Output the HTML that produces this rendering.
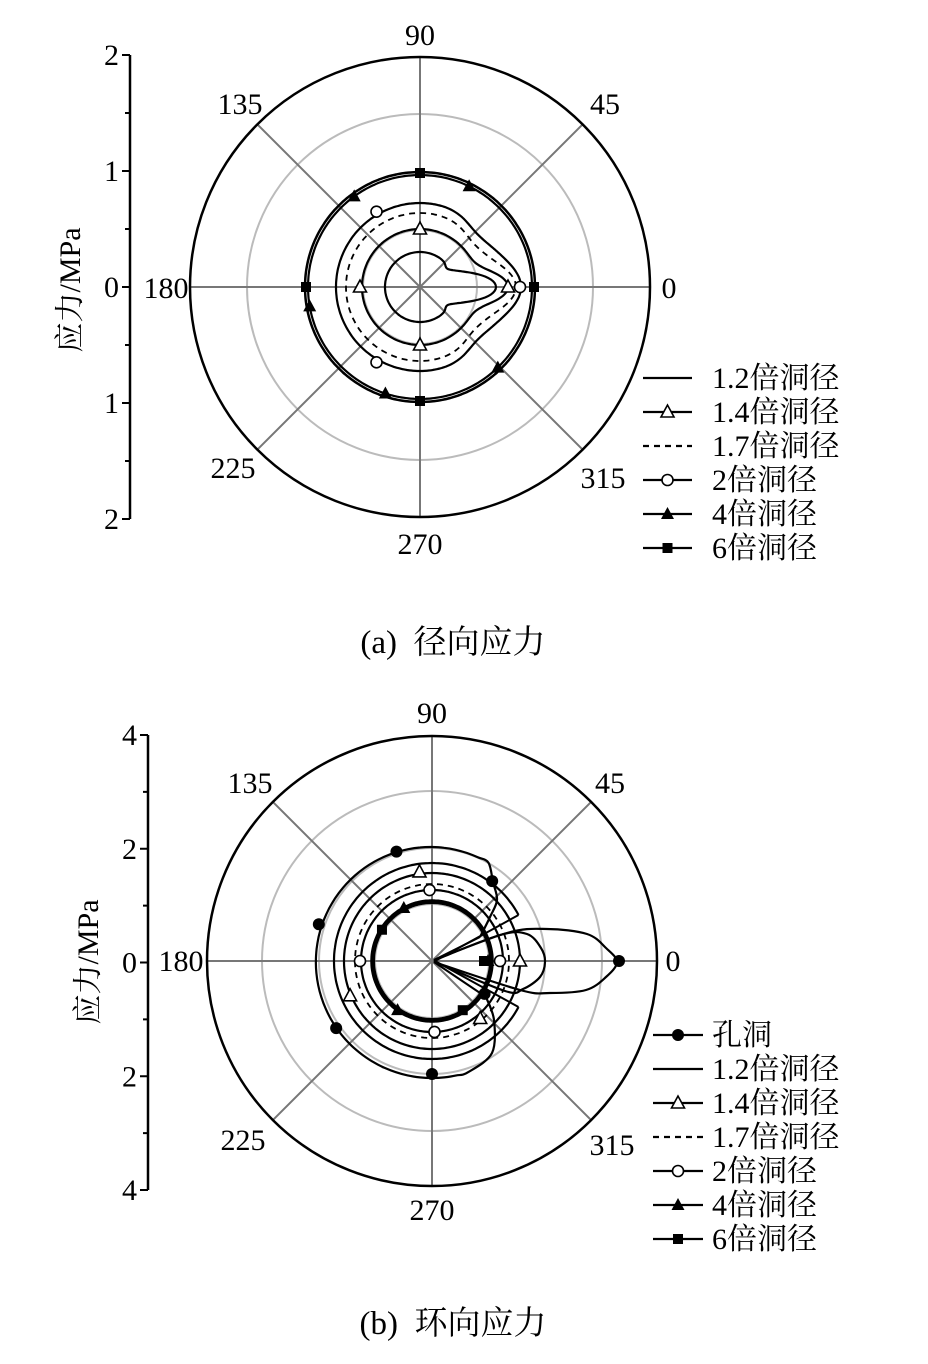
<!DOCTYPE html>
<html><head><meta charset="utf-8"><style>
html,body{margin:0;padding:0;background:#fff;}
svg{display:block;}
text{font-family:"Liberation Serif","Noto Serif CJK SC",serif;fill:#000;}
</style></head><body>
<svg id="s" width="928" height="1364" viewBox="0 0 928 1364" xmlns="http://www.w3.org/2000/svg"></svg>
<script>
var S=document.getElementById('s');var out='';
function P(x,y){return x.toFixed(1)+','+y.toFixed(1);}
function cr(pts,closed){
 var n=pts.length,d='M'+P(pts[0][0],pts[0][1]);
 var m=closed?n:n-1;
 for(var i=0;i<m;i++){
  var p0=pts[(i-1+n)%n],p1=pts[i],p2=pts[(i+1)%n],p3=pts[(i+2)%n];
  if(!closed){if(i==0)p0=p1;if(i+2>=n)p3=p2;}
  var c1=[p1[0]+(p2[0]-p0[0])/6,p1[1]+(p2[1]-p0[1])/6],c2=[p2[0]-(p3[0]-p1[0])/6,p2[1]-(p3[1]-p1[1])/6];
  d+='C'+P(c1[0],c1[1])+' '+P(c2[0],c2[1])+' '+P(p2[0],p2[1]);
 }
 return d+(closed?'Z':'');
}
function polar(cx,cy,f){var pts=[];for(var a=0;a<360;a+=3){var t=a*Math.PI/180;var r=f(t,a);pts.push([cx+r*Math.cos(t),cy-r*Math.sin(t)]);}return pts;}
function ang(a){return Math.min(Math.abs(a),360-Math.abs(a))*Math.PI/180;}
function pt(cx,cy,r,a){var t=a*Math.PI/180;return [cx+r*Math.cos(t),cy-r*Math.sin(t)];}
function path(d,w,dash){out+='<path d="'+d+'" fill="none" stroke="#000" stroke-width="'+w+'"'+(dash?' stroke-dasharray="6,5"':'')+'/>';}
function mk(type,x,y){
 if(type=='sq')out+='<rect x="'+(x-5)+'" y="'+(y-5)+'" width="10" height="10" fill="#000"/>';
 else if(type=='tf')out+='<polygon points="'+P(x,y-7)+' '+P(x-6.5,y+5)+' '+P(x+6.5,y+5)+'" fill="#000"/>';
 else if(type=='to')out+='<polygon points="'+P(x,y-7)+' '+P(x-6.5,y+5)+' '+P(x+6.5,y+5)+'" fill="#fff" stroke="#000" stroke-width="1.6"/>';
 else if(type=='co')out+='<circle cx="'+x+'" cy="'+y+'" r="5.5" fill="#fff" stroke="#000" stroke-width="1.6"/>';
 else if(type=='cf')out+='<circle cx="'+x+'" cy="'+y+'" r="6" fill="#000"/>';
}
function txt(x,y,s,sz,anc){out+='<text x="'+x+'" y="'+y+'" font-size="'+sz+'" text-anchor="'+(anc||'middle')+'">'+s+'</text>';}
function frame(cx,cy,R,grays){
 grays.forEach(function(r){out+='<circle cx="'+cx+'" cy="'+cy+'" r="'+r+'" fill="none" stroke="#bbb" stroke-width="2"/>';});
 for(var a=0;a<360;a+=45){var p=pt(cx,cy,R,a);out+='<line x1="'+cx+'" y1="'+cy+'" x2="'+p[0].toFixed(1)+'" y2="'+p[1].toFixed(1)+'" stroke="#777" stroke-width="2"/>';}
 out+='<circle cx="'+cx+'" cy="'+cy+'" r="'+R+'" fill="none" stroke="#000" stroke-width="2.5"/>';
}
function axis(x,y0,y1,labs,ylabx,ylaby){
 out+='<line x1="'+x+'" y1="'+y0+'" x2="'+x+'" y2="'+y1+'" stroke="#000" stroke-width="2.5"/>';
 var n=labs.length;
 for(var i=0;i<n;i++){var y=y0+(y1-y0)*i/(n-1);out+='<line x1="'+(x-8)+'" y1="'+y+'" x2="'+x+'" y2="'+y+'" stroke="#000" stroke-width="2"/>';txt(x-11,y+10,labs[i],30,'end');
  if(i<n-1){var ym=y+(y1-y0)/(n-1)/2;out+='<line x1="'+(x-5)+'" y1="'+ym+'" x2="'+x+'" y2="'+ym+'" stroke="#000" stroke-width="2"/>';}}
 out+='<text x="0" y="0" font-size="30" text-anchor="middle" transform="translate('+ylabx+','+ylaby+') rotate(-90)">应力/MPa</text>';
}
function legend(x0,x1,tx,y0,items){
 items.forEach(function(it,i){var y=y0+i*34;
  out+='<line x1="'+x0+'" y1="'+y+'" x2="'+x1+'" y2="'+y+'" stroke="#000" stroke-width="2.2"'+(it[0]=='dash'?' stroke-dasharray="6,5"':'')+'/>';
  if(it[0]!='line'&&it[0]!='dash')mk(it[0],(x0+x1)/2,y);
  txt(tx,y+10,it[1],30,'start');});
}
/* ---------- TOP ---------- */
var cx=420,cy=287;
frame(cx,cy,230,[57,115,173]);
axis(130,55,519,['2','1','0','1','2'],80,290);
txt(420,45,'90',30);txt(605,114,'45',30);txt(240,114,'135',30);txt(166,298,'180',30);txt(669,298,'0',30);
txt(233,478,'225',30);txt(603,488,'315',30);txt(420,554,'270',30);
path(cr(polar(cx,cy,function(t,a){return 115;}),true),2.5);
path(cr(polar(cx,cy,function(t,a){return 112;}),true),2.2);
path(cr(polar(cx,cy,function(t,a){var u=ang(a);return 84+17*Math.exp(-Math.pow(u/0.32,2))-6*Math.exp(-Math.pow((u-0.75)/0.3,2));}),true),2.2);
path(cr(polar(cx,cy,function(t,a){var u=ang(a);return 74+22*Math.exp(-Math.pow(u/0.3,2))-5*Math.exp(-Math.pow((u-0.7)/0.3,2));}),true),1.8,true);
path(cr(polar(cx,cy,function(t,a){var u=ang(a);return 58+30*Math.exp(-Math.pow(u/0.26,2));}),true),2.2);
path(cr(polar(cx,cy,function(t,a){var u=ang(a);return 35+41*Math.exp(-Math.pow(u/0.3,2))-3*Math.exp(-Math.pow((u-0.6)/0.15,2));}),true),2.2);
[0,90,180,270].forEach(function(a){var p=pt(cx,cy,114,a);mk('sq',p[0],p[1]);});
[64,126,190,252,314].forEach(function(a){var p=pt(cx,cy,112,a);mk('tf',p[0],p[1]);});
mk('co',420+100,287);var p=pt(cx,cy,87,120);mk('co',p[0],p[1]);p=pt(cx,cy,87,240);mk('co',p[0],p[1]);
[[88,0],[58,90],[60,180],[58,270]].forEach(function(q){var p=pt(cx,cy,q[0],q[1]);mk('to',p[0],p[1]);});
legend(643,692,712,378,[['line','1.2倍洞径'],['to','1.4倍洞径'],['dash','1.7倍洞径'],['co','2倍洞径'],['tf','4倍洞径'],['sq','6倍洞径']]);
txt(453,653,'(a)&#160; 径向应力',33);
/* ---------- BOTTOM ---------- */
cx=432;cy=961;
frame(cx,cy,225,[57,113,170]);
axis(148,735,1190,['4','2','0','2','4'],98,962);
txt(432,723,'90',30);txt(610,793,'45',30);txt(250,793,'135',30);txt(181,971,'180',30);txt(673,971,'0',30);
txt(243,1150,'225',30);txt(612,1155,'315',30);txt(432,1220,'270',30);
path(cr(polar(cx,cy,function(){return 60;}),true),3.5);
path(cr(polar(cx,cy,function(){return 58;}),true),2);
path(cr(polar(cx,cy,function(t,a){return 71;}),true),2.2);
path(cr(polar(cx,cy,function(t,a){return 77;}),true),1.8,true);
path(cr(polar(cx,cy,function(t,a){return 88;}),true),2.2);
(function(){var pts=[];for(var a=28;a<=332;a+=4){pts.push(pt(cx,cy,98,a));}
 path(cr(pts,false),2.2);
 var a1=pt(cx,cy,98,28),a2=pt(cx,cy,98,332);
 path('M'+P(a1[0],a1[1])+'L'+P(cx+3,cy)+'L'+P(a2[0],a2[1]),2);
 path(cr([[cx+3,cy-1],[500,935],[527,934],[541,948],[545,962],[540,977],[523,989],[505,991],[cx+3,cy+1]],false),2.2);
})();
(function(){var pts=[[480,937],[490,917],[497,900],[493,882]];
 for(var a=60;a<=290;a+=6){var r=114+3*Math.sin((a-90)*Math.PI/180*0.5);pts.push(pt(cx,cy,r,a));}
 pts.push([492,1053],[494,1020],[486,997]);
 path(cr(pts,false),2.2);
 path('M480,937L'+P(cx+2,cy-1)+'M486,997L'+P(cx+2,cy+1),2);
 path(cr([[cx+2,cy-1],[507,933],[547,929],[587,934],[606,948],[617,962],[606,977],[586,990],[550,993],[520,990],[cx+2,cy+1]],false),2.2);
})();
[[187,0],[100,53],[115,108],[119,162],[117,215],[113,270],[62,-32]].forEach(function(q){var p=pt(cx,cy,q[0],q[1]);mk('cf',p[0],p[1]);});
[[88,0],[90,98],[89,203],[75,-50]].forEach(function(q){var p=pt(cx,cy,q[0],q[1]);mk('to',p[0],p[1]);});
[[68,0],[71,92],[72,180],[71,272]].forEach(function(q){var p=pt(cx,cy,q[0],q[1]);mk('co',p[0],p[1]);});
[[56,0],[60,118],[60,235]].forEach(function(q){var p=pt(cx,cy,q[0],q[1]);mk('tf',p[0],p[1]);});
[[52,0],[59,148],[58,302]].forEach(function(q){var p=pt(cx,cy,q[0],q[1]);mk('sq',p[0],p[1]);});
legend(653,703,712,1035,[['cf','孔洞'],['line','1.2倍洞径'],['to','1.4倍洞径'],['dash','1.7倍洞径'],['co','2倍洞径'],['tf','4倍洞径'],['sq','6倍洞径']]);
txt(453,1334,'(b)&#160; 环向应力',33);
S.innerHTML=out;
</script>
</body></html>
